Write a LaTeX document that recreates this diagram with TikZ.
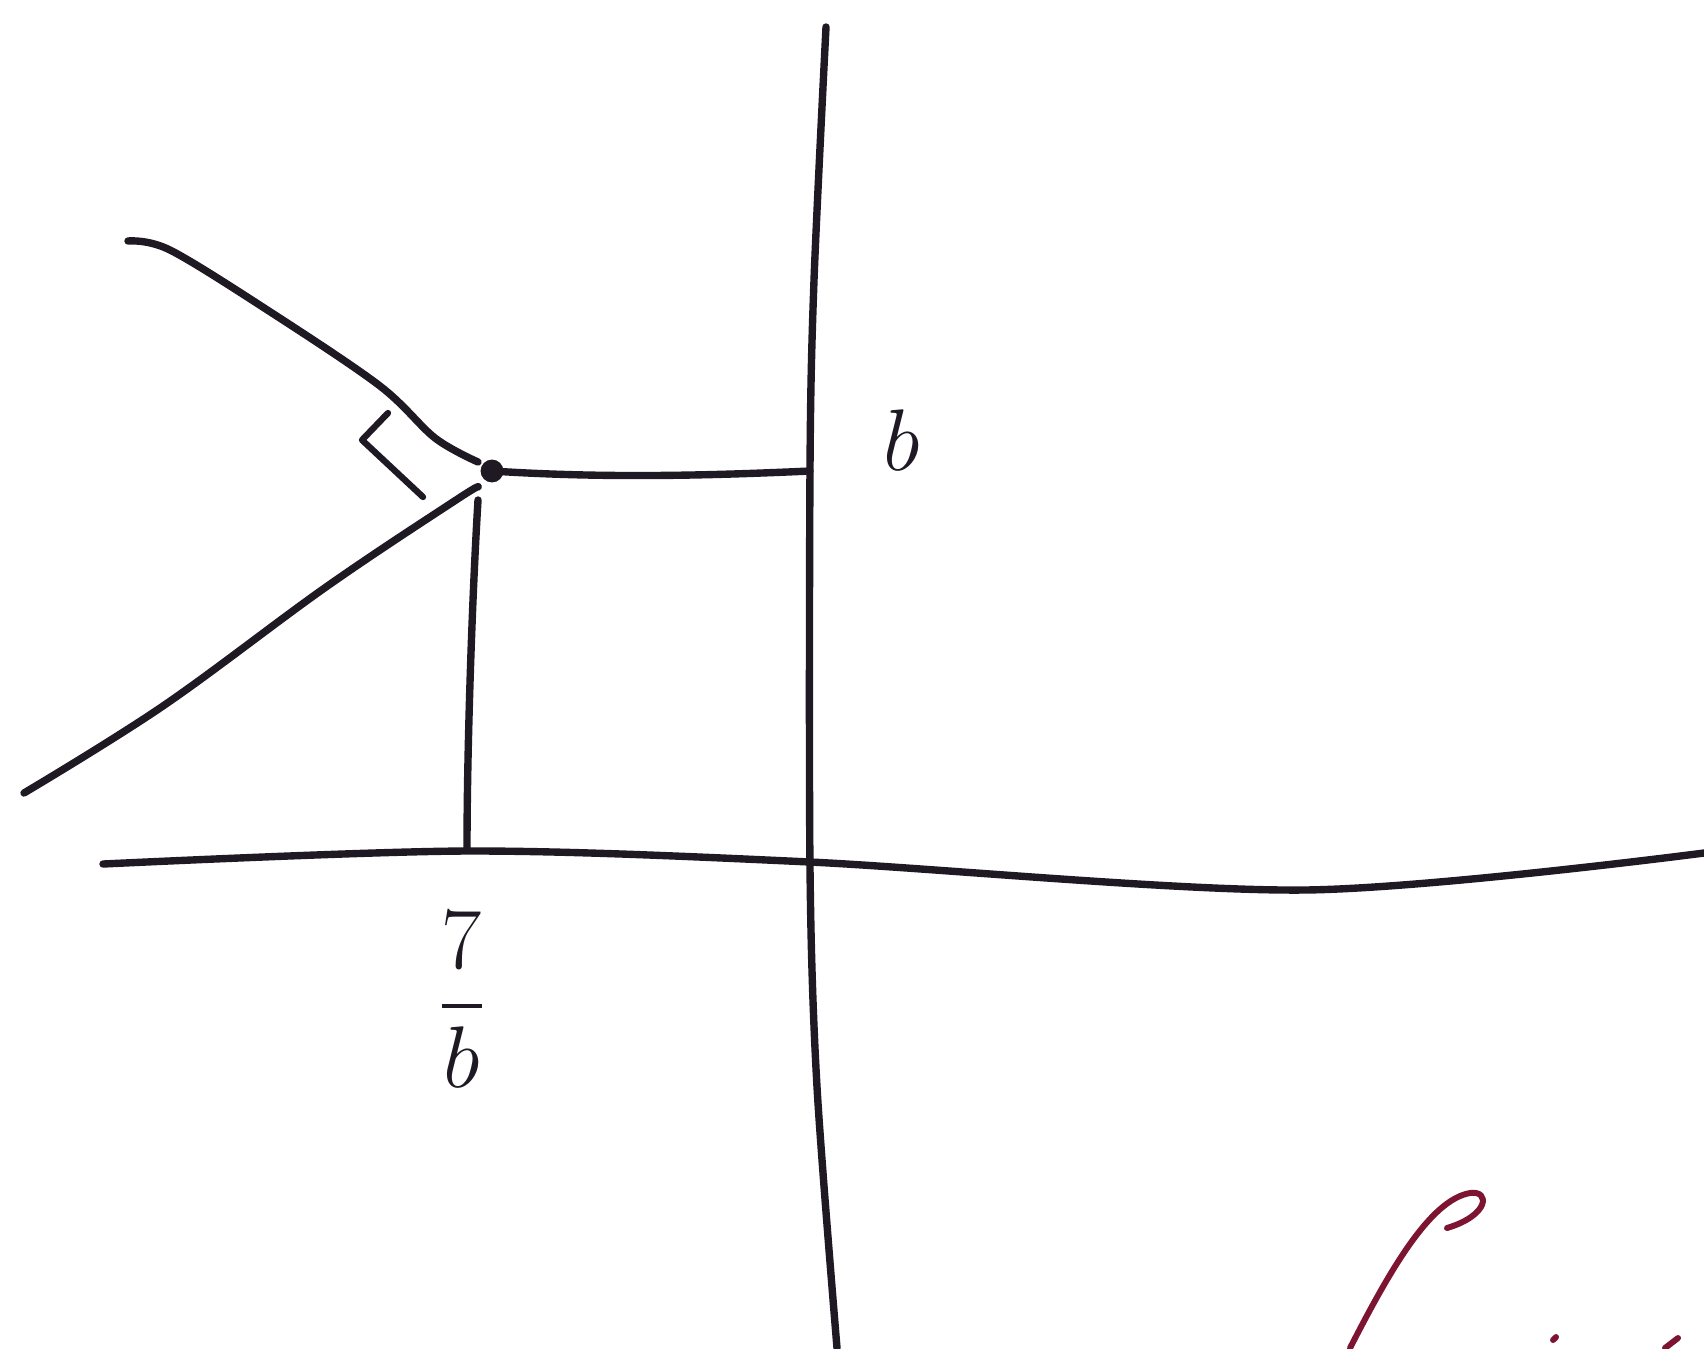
\documentclass[tikz,border=0pt]{standalone}
\usepackage{amsmath}
\definecolor{pen}{RGB}{30,25,35}
\definecolor{redpen}{RGB}{125,20,50}
\begin{document}
\begin{tikzpicture}[x=0.01cm,y=-0.01cm,
  ink/.style={draw=pen,line width=2.1pt,line cap=round,line join=round},
  redink/.style={draw=redpen,line width=1.7pt,line cap=round,line join=round},
  lab/.style={text=pen,font=\fontsize{26}{30}\selectfont}]
\useasboundingbox[fill=white] (0,0) rectangle (1704,1348);
% axes
\coordinate (ytop) at (826,27);
\coordinate (ybot) at (837,1348);
\coordinate (xl) at (103,864);
\coordinate (xr) at (1704,853);
\draw[ink] plot[smooth,tension=0.5] coordinates {(ytop) (814,280) (810,467) (810,869) (817,1087) (ybot)};
\draw[ink] plot[smooth,tension=0.5] coordinates {(xl) (467,851) (810,862) (1304,890) (xr)};
% point
\node[circle,fill=pen,inner sep=0pt,minimum size=6.5pt] (P) at (492,471) {};
\coordinate (Pb) at (478,500);
\coordinate (Q) at (810,471);
\coordinate (F) at (467,848);
\draw[ink] (P.center) .. controls (600,478) and (700,476) .. (Q);
\draw[ink] (Pb) .. controls (472,600) and (467,750) .. (F);
% curves meeting at point
\draw[ink] plot[smooth,tension=0.55] coordinates {(128,241) (170,250) (272,313) (380,386) (435,438) (478,462)};
\draw[ink] plot[smooth,tension=0.6] coordinates {(24,793) (163,706) (326,587) (456,500) (478,487)};
% right-angle mark
\draw[ink,line width=1.8pt] (388,413) -- (362,440) -- (423,497);
% labels
\node[lab] (lb) at (902,440) {$b$};
\node[lab] (lf) at (462,1000) {$\dfrac{7}{b}$};
% red stroke (partly cut off)
\draw[redink] (1350,1348) .. controls (1390,1270) and (1430,1200) .. (1470,1193)
  .. controls (1490,1190) and (1490,1215) .. (1447,1228);
\draw[redink] (1553,1340) -- (1556,1337);
\draw[redink] (1665,1348) -- (1678,1338);
\end{tikzpicture}
\end{document}
